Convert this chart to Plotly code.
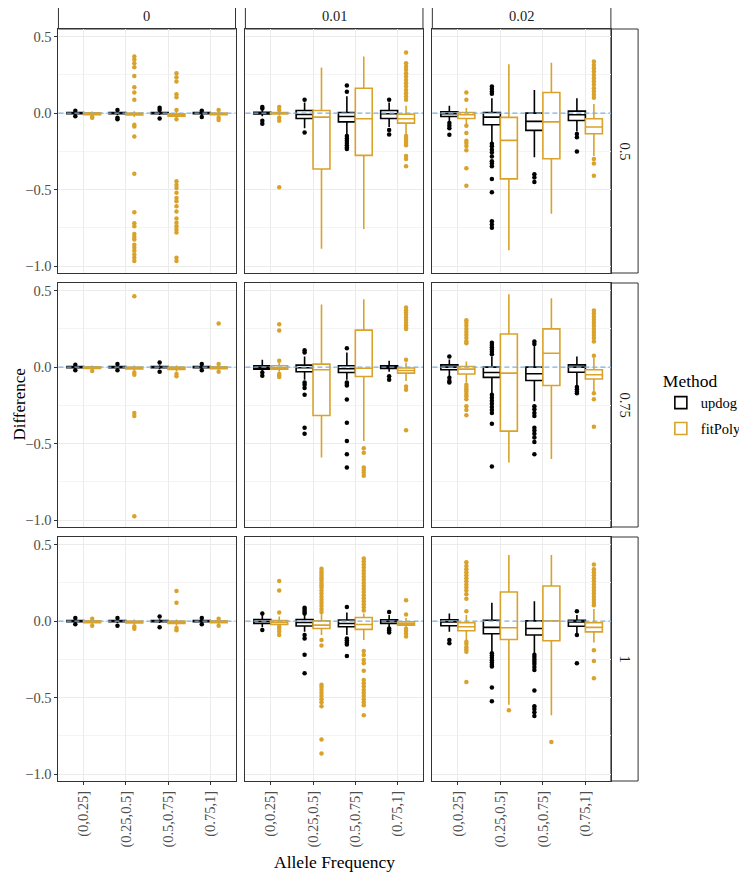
import plotly.graph_objects as go

CATS = ["(0,0.25]", "(0.25,0.5]", "(0.5,0.75]", "(0.75,1]"]
COL_LABELS = ["0", "0.01", "0.02"]
ROW_LABELS = ["0.5", "0.75", "1"]
METHODS = ["updog", "fitPoly"]

# Panels are listed row by row (ROW_LABELS) then column (COL_LABELS); each inner list follows CATS
UPDOG_Q1 = [
    [-0.004, -0.004, -0.004, -0.004],
    [-0.005, -0.035, -0.057, -0.035],
    [-0.022, -0.076, -0.113, -0.048],
    [-0.004, -0.004, -0.004, -0.004],
    [-0.013, -0.030, -0.035, -0.009],
    [-0.017, -0.067, -0.087, -0.033],
    [-0.004, -0.004, -0.004, -0.004],
    [-0.015, -0.032, -0.037, -0.015],
    [-0.030, -0.082, -0.091, -0.033],
]
UPDOG_MED = [
    [0.0, 0.0, 0.0, 0.0],
    [0.0, -0.009, -0.022, -0.004],
    [-0.004, -0.026, -0.054, -0.011],
    [0.0, 0.0, 0.0, 0.0],
    [-0.002, -0.004, -0.011, 0.0],
    [0.0, -0.035, -0.043, 0.0],
    [0.0, 0.0, 0.0, 0.0],
    [-0.002, -0.009, -0.015, -0.002],
    [-0.005, -0.041, -0.048, -0.005],
]
UPDOG_Q3 = [
    [0.004, 0.004, 0.004, 0.004],
    [0.005, 0.017, 0.004, 0.017],
    [0.009, 0.004, 0.0, 0.013],
    [0.004, 0.004, 0.004, 0.004],
    [0.009, 0.013, 0.009, 0.009],
    [0.015, 0.0, 0.0, 0.015],
    [0.004, 0.004, 0.004, 0.004],
    [0.011, 0.011, 0.007, 0.009],
    [0.009, 0.006, 0.002, 0.006],
]
UPDOG_LO = [
    [-0.012, -0.012, -0.012, -0.012],
    [-0.02, -0.098, -0.14, -0.09],
    [-0.055, -0.19, -0.289, -0.12],
    [-0.012, -0.012, -0.012, -0.012],
    [-0.03, -0.082, -0.082, -0.03],
    [-0.06, -0.17, -0.223, -0.12],
    [-0.012, -0.012, -0.012, -0.012],
    [-0.04, -0.07, -0.09, -0.04],
    [-0.07, -0.2, -0.21, -0.08],
]
UPDOG_HI = [
    [0.012, 0.012, 0.012, 0.012],
    [0.02, 0.07, 0.11, 0.07],
    [0.048, 0.098, 0.152, 0.098],
    [0.012, 0.012, 0.012, 0.012],
    [0.048, 0.07, 0.095, 0.041],
    [0.05, 0.07, 0.14, 0.07],
    [0.012, 0.012, 0.012, 0.012],
    [0.043, 0.045, 0.056, 0.04],
    [0.05, 0.121, 0.13, 0.04],
]
UPDOG_OUT = [
    [[0.015, -0.02], [0.02, -0.03, -0.04], [0.035, 0.02, -0.035], [0.015, -0.025]],
    [[0.04, 0.03, -0.05, -0.07], [0.087, -0.126],
     [0.18, 0.14, -0.15, -0.165, -0.18, -0.195, -0.21, -0.225, -0.235], [0.087, -0.11, -0.14]],
    [[-0.065, -0.083, -0.098, -0.141],
     [0.174, 0.157, 0.141, 0.126, -0.2, -0.217, -0.239, -0.257, -0.283, -0.315, -0.33, -0.348,
      -0.43, -0.517, -0.706, -0.728, -0.75],
     [-0.40, -0.42, -0.45], [-0.137, -0.157, -0.25]],
    [[0.015, -0.02], [0.02, -0.02], [0.03, -0.03], [0.02, -0.02]],
    [[-0.035, -0.056], [0.11, 0.095, -0.10, -0.115, -0.136, -0.18, -0.396, -0.435],
     [0.123, -0.10, -0.11, -0.12, -0.212, -0.364, -0.483, -0.57, -0.656], [-0.06, -0.082]],
    [[0.07, -0.07, -0.09, -0.1],
     [0.16, 0.145, 0.13, 0.115, 0.1, 0.085, -0.18, -0.2, -0.22, -0.24, -0.26, -0.28, -0.3, -0.37, -0.65],
     [0.167, 0.152, -0.255, -0.275, -0.3, -0.32, -0.396, -0.415, -0.435, -0.46, -0.49, -0.57],
     [-0.13, -0.145, -0.16, -0.17]],
    [[0.02, -0.02], [0.02, -0.03], [0.03, -0.04], [0.02, -0.02]],
    [[0.05, -0.058], [0.087, 0.075, 0.062, 0.05, -0.09, -0.113, -0.22, -0.34],
     [0.093, -0.113, -0.125, -0.14, -0.152, -0.228], [0.06, -0.048, -0.06, -0.074]],
    [[-0.123, -0.145], [-0.21, -0.225, -0.24, -0.255, -0.27, -0.285, -0.297, -0.433, -0.524],
     [-0.22, -0.235, -0.25, -0.265, -0.28, -0.3, -0.32, -0.454, -0.556, -0.575, -0.595, -0.62],
     [0.065, -0.09, -0.276]],
]

FITPOLY_Q1 = [
    [-0.010, -0.012, -0.020, -0.010],
    [-0.006, -0.365, -0.276, -0.065],
    [-0.035, -0.430, -0.298, -0.135],
    [-0.008, -0.012, -0.015, -0.010],
    [-0.013, -0.316, -0.061, -0.039],
    [-0.045, -0.418, -0.120, -0.078],
    [-0.010, -0.012, -0.015, -0.010],
    [-0.022, -0.048, -0.054, -0.026],
    [-0.063, -0.120, -0.128, -0.070],
]
FITPOLY_MED = [
    [-0.004, -0.006, -0.012, -0.004],
    [-0.001, -0.026, -0.037, -0.037],
    [-0.011, -0.178, -0.057, -0.091],
    [-0.003, -0.006, -0.008, -0.004],
    [-0.004, -0.017, -0.007, -0.022],
    [-0.013, -0.039, 0.091, -0.050],
    [-0.004, -0.006, -0.008, -0.004],
    [-0.008, -0.026, -0.022, -0.015],
    [-0.037, -0.043, 0.002, -0.041],
]
FITPOLY_Q3 = [
    [0.002, 0.0, -0.004, 0.0],
    [0.004, 0.017, 0.163, -0.007],
    [0.004, -0.028, 0.135, -0.037],
    [0.002, 0.0, 0.0, 0.002],
    [0.009, 0.020, 0.242, -0.006],
    [0.004, 0.217, 0.250, -0.017],
    [0.002, 0.0, 0.0, 0.002],
    [0.004, 0.002, 0.024, -0.004],
    [-0.011, 0.190, 0.230, -0.011],
]
FITPOLY_LO = [
    [-0.02, -0.025, -0.035, -0.02],
    [-0.015, -0.887, -0.757, -0.14],
    [-0.075, -0.896, -0.657, -0.28],
    [-0.02, -0.025, -0.03, -0.02],
    [-0.03, -0.59, -0.483, -0.09],
    [-0.1, -0.623, -0.6, -0.16],
    [-0.02, -0.025, -0.03, -0.02],
    [-0.03, -0.09, -0.124, -0.045],
    [-0.13, -0.546, -0.615, -0.14],
]
FITPOLY_HI = [
    [0.01, 0.012, 0.01, 0.01],
    [0.015, 0.298, 0.37, 0.048],
    [0.033, 0.32, 0.33, 0.06],
    [0.01, 0.01, 0.01, 0.01],
    [0.03, 0.41, 0.444, 0.03],
    [0.037, 0.476, 0.45, 0.06],
    [0.012, 0.01, 0.01, 0.01],
    [0.03, 0.05, 0.05, 0.02],
    [0.04, 0.433, 0.433, 0.08],
]
FITPOLY_OUT = [
    [[-0.025, -0.03],
     [0.37, 0.35, 0.326, 0.30, 0.243, 0.17, 0.135, 0.087, -0.076, -0.087, -0.152, -0.396, -0.648,
      -0.72, -0.74, -0.79, -0.81, -0.826, -0.86, -0.88, -0.90, -0.924, -0.946, -0.967],
     [0.26, 0.235, 0.207, 0.124, 0.104, 0.02, -0.04, -0.446, -0.47, -0.49, -0.52, -0.554, -0.576,
      -0.609, -0.643, -0.689, -0.717, -0.74, -0.76, -0.78, -0.946, -0.967],
     [0.02, -0.03, -0.045]],
    [[0.04, 0.02, -0.03, -0.05, -0.485], [], [],
     [0.396, 0.326, 0.304, 0.283, 0.26, 0.239, 0.217, 0.196, 0.174, 0.152, 0.13, 0.109, 0.087,
      -0.15, -0.165, -0.18, -0.195, -0.21, -0.28, -0.30, -0.348]],
    [[0.135, 0.087, -0.083, -0.13, -0.18, -0.195, -0.215, -0.243, -0.36, -0.474], [], [],
     [0.337, 0.315, 0.293, 0.272, 0.25, 0.228, 0.207, 0.185, 0.163, 0.141, 0.12, 0.1,
      -0.30, -0.33, -0.41]],
    [[-0.025], [0.463, -0.035, -0.05, -0.30, -0.32, -0.975], [-0.045, -0.06], [0.286, 0.02, -0.03]],
    [[0.28, 0.24, 0.041, -0.045, -0.055, -0.065], [],
     [-0.53, -0.56, -0.656, -0.672, -0.69, -0.71],
     [0.39, 0.372, 0.357, 0.342, 0.325, 0.308, 0.29, 0.274, 0.258, 0.25, 0.048, -0.126, -0.147, -0.413]],
    [[0.307, 0.29, 0.27, 0.25, 0.23, 0.21, 0.19, 0.17, 0.156, -0.115, -0.13, -0.145, -0.16, -0.175,
      -0.19, -0.21, -0.255, -0.28, -0.314], [], [],
     [0.37, 0.35, 0.33, 0.31, 0.29, 0.27, 0.25, 0.23, 0.21, 0.19, 0.167, 0.074, -0.17, -0.21, -0.39]],
    [[0.015, -0.03], [-0.035, -0.05], [0.197, 0.121, -0.045, -0.06], [0.015, -0.03]],
    [[0.262, 0.2, 0.056, -0.037, -0.05, -0.07, -0.09],
     [0.342, 0.325, 0.31, 0.295, 0.28, 0.265, 0.25, 0.235, 0.22, 0.2, 0.18, 0.16, 0.14, 0.12, 0.1,
      0.08, 0.06, -0.124, -0.16, -0.416, -0.43, -0.45, -0.47, -0.49, -0.51, -0.53, -0.556, -0.773, -0.866],
     [0.41, 0.39, 0.37, 0.35, 0.33, 0.31, 0.29, 0.27, 0.25, 0.23, 0.21, 0.19, 0.17, 0.15, 0.13, 0.11,
      0.09, 0.07, -0.196, -0.222, -0.254, -0.276, -0.324, -0.384, -0.406, -0.428, -0.45, -0.47,
      -0.49, -0.51, -0.53, -0.55, -0.615],
     [0.137, 0.043, -0.05, -0.065, -0.08, -0.1]],
    [[0.385, 0.36, 0.34, 0.32, 0.3, 0.28, 0.26, 0.24, 0.22, 0.2, 0.175, 0.147, 0.065, -0.134, -0.15,
      -0.17, -0.185, -0.2, -0.398],
     [-0.583], [-0.79],
     [0.37, 0.34, 0.32, 0.3, 0.28, 0.26, 0.24, 0.22, 0.2, 0.18, 0.16, 0.14, 0.12, 0.104, -0.19, -0.26, -0.374]],
]

Y_TICKS = [-1.0, -0.5, 0.0, 0.5]
Y_TICK_TEXT = ["\u22121.0", "\u22120.5", "0.0", "0.5"]
Y_MINOR = [-0.75, -0.25, 0.25]

# ---------------- styling / layout ----------------
PAGE_W, PAGE_H = 747, 874
OFF = 8  # default page body margin
W, H = PAGE_W - OFF, PAGE_H - OFF
FONT = "Liberation Serif"
COLORS = {"updog": "#000000", "fitPoly": "#D9A22B"}
BORDER = "#333333"
GRID = "#EBEBEB"
GRID_MINOR = "#F4F4F4"
# positions below are in page pixels
COL_PX = [(59, 238), (248, 427.5), (437, 617.5)]
ROW_PX = [(29, 273), (283, 527), (537, 781)]
STRIP_TOP = (2, 29)
STRIP_RIGHT = (617.5, 645)


def px_x(v):
    return (v - OFF) / W


def px_y(v):
    return 1 - (v - OFF) / H


STATS = {
    "updog": (UPDOG_Q1, UPDOG_MED, UPDOG_Q3, UPDOG_LO, UPDOG_HI, UPDOG_OUT),
    "fitPoly": (FITPOLY_Q1, FITPOLY_MED, FITPOLY_Q3, FITPOLY_LO, FITPOLY_HI, FITPOLY_OUT),
}

fig = go.Figure()
layout = {}
shapes = []
annotations = []

for r in range(3):
    for c in range(3):
        p = r * 3 + c
        k = p + 1
        xa = "x" if k == 1 else f"x{k}"
        ya = "y" if k == 1 else f"y{k}"
        for m in METHODS:
            q1, med, q3, lo, hi, out = STATS[m]
            fig.add_trace(go.Box(
                x=CATS, q1=q1[p], median=med[p], q3=q3[p],
                lowerfence=lo[p], upperfence=hi[p], y=out[p],
                name=m, legendgroup=m, showlegend=(p == 0),
                offsetgroup=m,
                line=dict(color=COLORS[m], width=1.6),
                fillcolor="white", whiskerwidth=0,
                boxpoints="outliers", jitter=0, pointpos=0,
                marker=dict(color=COLORS[m], size=4.5, line=dict(width=0)),
                xaxis=xa, yaxis=ya, hoverinfo="skip",
            ))
        x0, x1 = COL_PX[c]
        y0, y1 = ROW_PX[r]
        xname = "xaxis" if k == 1 else f"xaxis{k}"
        yname = "yaxis" if k == 1 else f"yaxis{k}"
        layout[xname] = dict(
            domain=[px_x(x0), px_x(x1)], anchor=ya, type="category",
            categoryorder="array", categoryarray=CATS, range=[-0.6, 3.6],
            showgrid=True, gridcolor=GRID, gridwidth=1.1,
            showline=True, mirror=True, linecolor=BORDER, linewidth=1,
            ticks="outside" if r == 2 else "", ticklen=3, tickcolor=BORDER,
            showticklabels=(r == 2), tickangle=-90,
            tickfont=dict(family=FONT, size=14.5, color="#4D4D4D"),
            zeroline=False, fixedrange=True,
        )
        layout[yname] = dict(
            domain=[px_y(y1), px_y(y0)], anchor=xa, range=[-1.045, 0.55],
            tickmode="array", tickvals=Y_TICKS, ticktext=Y_TICK_TEXT,
            showgrid=True, gridcolor=GRID, gridwidth=1.1,
            minor=dict(tickmode="array", tickvals=Y_MINOR, showgrid=True,
                       gridcolor=GRID_MINOR, gridwidth=0.6, ticks=""),
            showline=True, mirror=True, linecolor=BORDER, linewidth=1,
            ticks="outside" if c == 0 else "", ticklen=3, tickcolor=BORDER,
            showticklabels=(c == 0),
            tickfont=dict(family=FONT, size=14.5, color="#4D4D4D"),
            zeroline=False, fixedrange=True,
        )
        shapes.append(dict(
            type="line", xref=f"{xa} domain", yref=ya, x0=0, x1=1, y0=0, y1=0,
            layer="above", line=dict(color="#7EB0E0", width=1.3, dash="5px,3px"),
        ))

# facet strips
for c, lab in enumerate(COL_LABELS):
    x0, x1 = COL_PX[c]
    shapes.append(dict(type="rect", xref="paper", yref="paper",
                       x0=px_x(x0), x1=px_x(x1), y0=px_y(STRIP_TOP[1]), y1=px_y(STRIP_TOP[0]),
                       fillcolor="white", line=dict(color=BORDER, width=1), layer="below"))
    annotations.append(dict(text=lab, xref="paper", yref="paper",
                            x=px_x((x0 + x1) / 2), y=px_y((STRIP_TOP[0] + STRIP_TOP[1]) / 2),
                            showarrow=False, xanchor="center", yanchor="middle",
                            font=dict(family=FONT, size=14.5, color="#1A1A1A")))
for r, lab in enumerate(ROW_LABELS):
    y0, y1 = ROW_PX[r]
    shapes.append(dict(type="rect", xref="paper", yref="paper",
                       x0=px_x(STRIP_RIGHT[0]), x1=px_x(STRIP_RIGHT[1]), y0=px_y(y1), y1=px_y(y0),
                       fillcolor="white", line=dict(color=BORDER, width=1), layer="below"))
    annotations.append(dict(text=lab, xref="paper", yref="paper",
                            x=px_x((STRIP_RIGHT[0] + STRIP_RIGHT[1]) / 2), y=px_y((y0 + y1) / 2),
                            showarrow=False, xanchor="center", yanchor="middle", textangle=90,
                            font=dict(family=FONT, size=14.5, color="#1A1A1A")))

# axis titles
annotations.append(dict(text="Difference", xref="paper", yref="paper", x=px_x(8),
                        y=px_y((ROW_PX[0][0] + ROW_PX[2][1]) / 2), textangle=-90,
                        showarrow=False, xanchor="left", yanchor="middle",
                        font=dict(family=FONT, size=17, color="black")))
annotations.append(dict(text="Allele Frequency", xref="paper", yref="paper",
                        x=px_x((COL_PX[0][0] + COL_PX[2][1]) / 2), y=px_y(862),
                        showarrow=False, xanchor="center", yanchor="middle",
                        font=dict(family=FONT, size=17.5, color="black")))

fig.update_layout(
    width=W, height=H, margin=dict(l=0, r=0, t=0, b=0, pad=0),
    paper_bgcolor="white", plot_bgcolor="white",
    boxmode="group", boxgap=0.2, boxgroupgap=0,
    shapes=shapes, annotations=annotations,
    legend=dict(x=px_x(668), y=px_y(364), xanchor="left", yanchor="top",
                title=dict(text="Method", font=dict(family=FONT, size=17.5, color="black")),
                font=dict(family=FONT, size=14.5, color="black"),
                tracegroupgap=4, bgcolor="rgba(0,0,0,0)"),
    **layout,
)

fig.write_html("out.html")
